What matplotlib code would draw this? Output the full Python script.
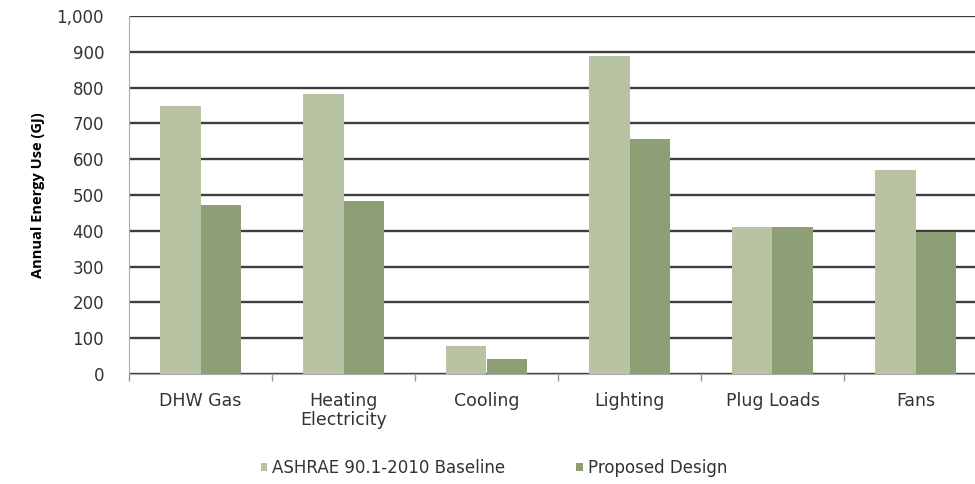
import matplotlib
matplotlib.use("Agg")
import matplotlib.pyplot as plt
import numpy as np

categories = ["DHW Gas", "Heating\nElectricity", "Cooling", "Lighting", "Plug Loads", "Fans"]
baseline = [748, 782, 79, 888, 411, 570]
proposed = [473, 483, 42, 656, 411, 397]
series_names = ["ASHRAE 90.1-2010 Baseline", "Proposed Design"]
yticks = [0, 100, 200, 300, 400, 500, 600, 700, 800, 900, 1000]

plt.rcParams["font.family"] = ["DejaVu Sans"]

fig = plt.figure(figsize=(9.75, 4.84), dpi=100)
ax = fig.add_axes([129 / 975, 1 - 374 / 484, 858 / 975, 358 / 484])

x = np.arange(len(categories))
w = 0.28
c_base = "#b8c3a3"
c_prop = "#8e9f76"
b1 = ax.bar(x - w / 2, baseline, w, color=c_base, zorder=3, label=series_names[0])
b2 = ax.bar(x + w / 2, proposed, w, color=c_prop, zorder=3, label=series_names[1])

ax.set_xlim(-0.5, len(categories) - 0.5)
ax.set_ylim(0, 1000)
ax.set_yticks(yticks)
ax.set_yticklabels([f"{v:,}" for v in yticks], fontsize=12, color="#333333")
ax.yaxis.grid(True, color="#3e3e3e", linewidth=1.7, zorder=1)
ax.set_axisbelow(True)
ax.tick_params(axis="y", length=0, pad=18)

ax.set_xticks(x)
ax.set_xticklabels(categories, fontsize=12.5, color="#333333", linespacing=1.05)
ax.set_xticks(np.arange(len(categories) + 1) - 0.5, minor=True)
ax.tick_params(axis="x", which="major", length=0, pad=13)
ax.tick_params(axis="x", which="minor", length=5, color="#999999", width=1)

for s in ["top", "right"]:
    ax.spines[s].set_visible(False)
ax.spines["left"].set_color("#aaaaaa")
ax.spines["bottom"].set_color("#aaaaaa")

ax.set_ylabel("Annual Energy Use (GJ)", fontsize=10.5, fontweight="bold",
              family=["Open Sans", "DejaVu Sans"], labelpad=8)

fig.legend(handles=[b1, b2], labels=series_names, loc="center",
           bbox_to_anchor=(494 / 975, 1 - 468 / 484), ncol=2, frameon=False,
           fontsize=12, handlelength=0.4, handleheight=0.4,
           handletextpad=0.3, columnspacing=4.25, labelcolor="#333333")

fig.savefig("out.png", dpi=100)
